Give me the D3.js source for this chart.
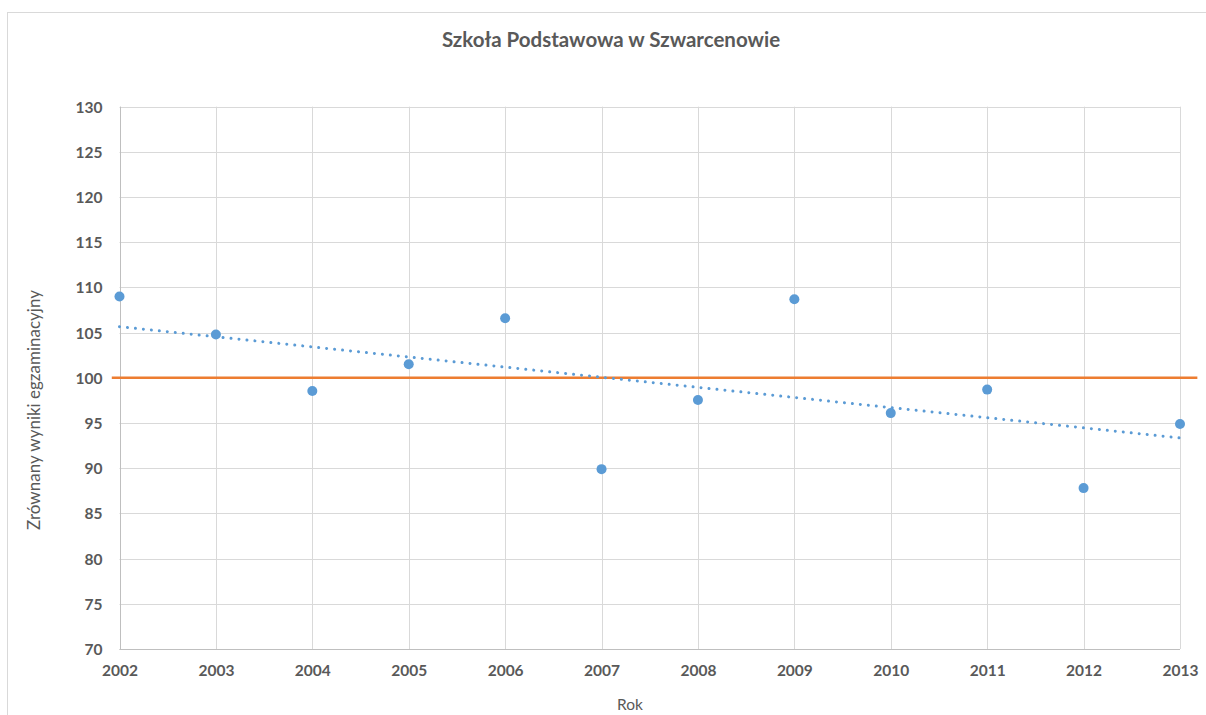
<!DOCTYPE html>
<html><head><meta charset="utf-8">
<script src="https://cdn.jsdelivr.net/npm/d3@7"></script>
<style>body{margin:0;background:#fff;}svg{display:block;}</style>
</head><body>
<svg id="c" width="1206" height="715"></svg>
<script>
const years = [2002,2003,2004,2005,2006,2007,2008,2009,2010,2011,2012,2013];
const scores = [109.0,104.8,98.55,101.5,106.6,89.9,97.55,108.7,96.1,98.7,87.8,94.9];
const refYears = [2001.92, 2013.18];
const refValues = [100, 100];
const yTicks = [70,75,80,85,90,95,100,105,110,115,120,125,130];
const title = "Szkoła Podstawowa w Szwarcenowie";
const yTitle = "Zrównany wyniki egzaminacyjny";
const xTitle = "Rok";

const svg = d3.select("#c");
const font = "Lato, 'Open Sans', sans-serif";
const L = 119.5, R = 1180, T = 106.7, B = 649;
const x = d3.scaleLinear().domain([2002,2013]).range([L,R]);
const y = d3.scaleLinear().domain([70,130]).range([B,T]);

// chart border
svg.append("rect").attr("x",7.5).attr("y",12.5).attr("width",1210).attr("height",720)
  .attr("fill","#fff").attr("stroke","#d9d9d9").attr("stroke-width",1);

// gridlines
svg.append("g").selectAll("line.h").data(yTicks).join("line")
  .attr("x1",L).attr("x2",R).attr("y1",d=>Math.round(y(d))+0.5).attr("y2",d=>Math.round(y(d))+0.5)
  .attr("stroke","#d9d9d9").attr("stroke-width",1);
svg.append("g").selectAll("line.v").data(years).join("line")
  .attr("y1",T).attr("y2",B).attr("x1",d=>Math.round(x(d))+0.5).attr("x2",d=>Math.round(x(d))+0.5)
  .attr("stroke","#d9d9d9").attr("stroke-width",1);
// axis lines
svg.append("line").attr("x1",Math.round(L)+0.5).attr("x2",Math.round(L)+0.5).attr("y1",T).attr("y2",B+0.5)
  .attr("stroke","#bfbfbf");
svg.append("line").attr("x1",L).attr("x2",R).attr("y1",Math.round(B)+0.5).attr("y2",Math.round(B)+0.5)
  .attr("stroke","#bfbfbf");

// tick labels
const yAxis = svg.append("g").attr("transform",`translate(${L-17},0)`)
  .call(d3.axisLeft(y).tickValues(yTicks).tickSize(0).tickPadding(0));
yAxis.select(".domain").remove();
yAxis.selectAll("text").attr("font-family",font).attr("font-size",15.5).attr("font-weight","bold").attr("fill","#595959").attr("dy","0.35em");
const xAxis = svg.append("g").attr("transform",`translate(0,${B+16})`)
  .call(d3.axisBottom(x).tickValues(years).tickFormat(d3.format("d")).tickSize(0).tickPadding(0));
xAxis.select(".domain").remove();
xAxis.selectAll("text").attr("font-family",font).attr("font-size",15.5).attr("font-weight","bold").attr("fill","#595959").attr("dy","0.71em");

// reference line at 100
const refData = refYears.map((d,i)=>[d,refValues[i]]);
svg.append("path").datum(refData)
  .attr("d",d3.line().x(d=>x(d[0])).y(d=>y(d[1])))
  .attr("stroke","#ed7d31").attr("stroke-width",2.5).attr("fill","none");

// linear trend (least squares from the data)
const mx = d3.mean(years), my = d3.mean(scores);
const slope = d3.sum(years,(d,i)=>(d-mx)*(scores[i]-my))/d3.sum(years,d=>(d-mx)*(d-mx));
const trend = [2002,2013].map(t=>[t, my + slope*(t-mx)]);
svg.append("path").datum(trend)
  .attr("d",d3.line().x(d=>x(d[0])).y(d=>y(d[1])))
  .attr("stroke","#5b9bd5").attr("stroke-width",3).attr("fill","none")
  .attr("stroke-dasharray","0.01 8").attr("stroke-linecap","round");

// points
svg.append("g").selectAll("circle").data(years).join("circle")
  .attr("cx",d=>x(d)).attr("cy",(d,i)=>y(scores[i])).attr("r",5)
  .attr("fill","#5b9bd5");

// titles
svg.append("text").attr("x",611).attr("y",47).attr("text-anchor","middle")
  .attr("font-family",font).attr("font-size",20.5).attr("font-weight","bold").attr("fill","#595959").text(title);
svg.append("text").attr("transform","translate(40,410) rotate(-90)").attr("text-anchor","middle")
  .attr("font-family",font).attr("font-size",17).attr("fill","#595959").text(yTitle);
svg.append("text").attr("x",630).attr("y",710).attr("text-anchor","middle")
  .attr("font-family",font).attr("font-size",15.5).attr("fill","#595959").text(xTitle);
</script>
</body></html>
